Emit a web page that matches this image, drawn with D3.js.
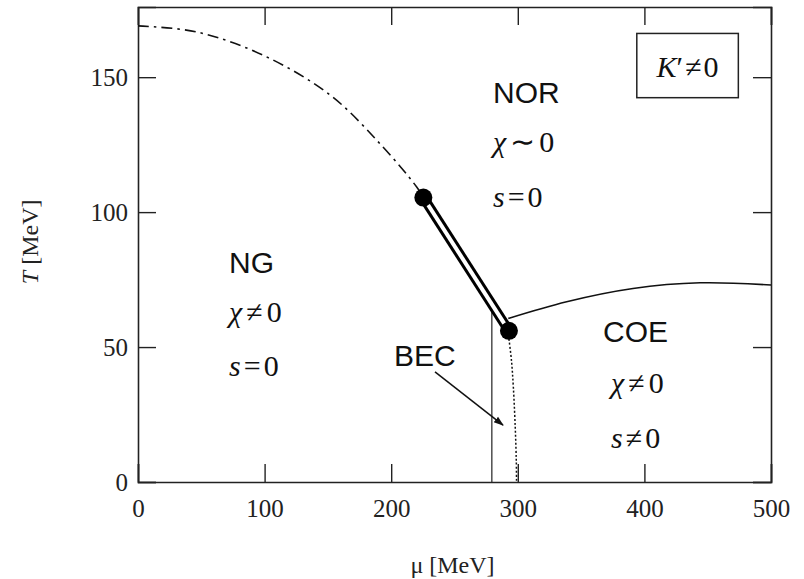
<!DOCTYPE html>
<html>
<head>
<meta charset="utf-8">
<script src="https://cdn.jsdelivr.net/npm/d3@7"></script>
<style>
body { margin: 0; background: #fff; }
svg { display: block; }
.region { font-family: "Liberation Sans", Arial, sans-serif; font-size: 30px; fill: #111; }
.math { font-family: "Liberation Serif", "Times New Roman", serif; font-size: 30px; fill: #111; }
.axis-title { font-family: "Liberation Serif", "Times New Roman", serif; font-size: 24px; fill: #222; }
.tick text { font-family: "Liberation Serif", "Times New Roman", serif; font-size: 25px; fill: #222; }
</style>
</head>
<body>
<div id="chart"></div>
<script>
// crossover (dash-dot) line, from mu=0 down to the upper critical point
var crossMu = [0, 46, 99, 152, 191, 220, 225.4];
var crossT  = [169, 166.8, 158.1, 143.3, 125.4, 109.4, 105.4];

// critical points, joined by the first order (double) line
var critMu = [225.4, 293];
var critT  = [105.4, 56];

// boundary of the COE phase
var coeMu = [292.5, 338.6, 391, 444, 500];
var coeT  = [60.6, 66.8, 71.7, 73.8, 73];

// BEC line (solid, vertical)
var becMu = [279.5, 279.5];
var becT  = [0, 63];

// dotted line below the lower critical point
var dotMu = [293, 295, 296.5, 298, 298.8, 299];
var dotT  = [53, 45, 35, 20, 8, 0];

var xTicks = [0, 100, 200, 300, 400, 500];
var yTicks = [0, 50, 100, 150];

// region names and their math labels (left edge / baseline in data units)
var regionNames = ["NOR", "NG", "COE"];
var regionMu    = [280.4, 71.9, 367.3];
var regionT     = [140.4, 77.6, 51.9];
var chiSign     = ["\u223C", "\u2260", "\u2260"];
var chiMu       = [280.4, 71.9, 373.6];
var chiT        = [122.3, 59.4, 33.0];
var sSign       = ["=", "=", "\u2260"];
var sMu         = [280.4, 71.9, 373.6];
var sT          = [101.9, 39.3, 12.6];

// BEC label and arrow
var becLabelMu = 202.2, becLabelT = 43;
var arrowMu = [234.6, 288.3];
var arrowT  = [40.8, 21.1];

// K' box corners
var boxMu = [394, 474.2];
var boxT  = [166.2, 142.4];

var width = 804, height = 579;
var margin = {top: 7, right: 33, bottom: 97, left: 138};

var svg = d3.select("#chart").append("svg")
    .attr("width", width)
    .attr("height", height);

var x = d3.scaleLinear().domain([0, 500]).range([margin.left, width - margin.right]);
var y = d3.scaleLinear().domain([0, 176]).range([height - margin.bottom, margin.top]);

function zip(a, b) {
    return a.map(function(d, i) { return [d, b[i]]; });
}

var line = d3.line()
    .x(function(d) { return x(d[0]); })
    .y(function(d) { return y(d[1]); });

//axes: ticks point inward on all four sides
svg.append("g")
    .attr("transform", "translate(0," + y(0) + ")")
    .call(d3.axisBottom(x).tickValues(xTicks).tickSize(-18).tickPadding(17));
svg.append("g")
    .attr("transform", "translate(" + x(0) + ",0)")
    .call(d3.axisLeft(y).tickValues(yTicks).tickSize(-18).tickPadding(10));
svg.append("g")
    .attr("transform", "translate(0," + y(176) + ")")
    .call(d3.axisTop(x).tickValues(xTicks).tickSize(-18).tickFormat(""));
svg.append("g")
    .attr("transform", "translate(" + x(500) + ",0)")
    .call(d3.axisRight(y).tickValues(yTicks).tickSize(-18).tickFormat(""));

svg.selectAll(".domain").attr("stroke", "#222").attr("stroke-width", 1.6);
svg.selectAll(".tick line").attr("stroke", "#222").attr("stroke-width", 1.4);
svg.selectAll(".tick text").attr("font-family", null).attr("font-size", null);

//axis titles
var yTitle = svg.append("text").attr("class", "axis-title")
    .attr("transform", "translate(38," + y(89) + ") rotate(-90)")
    .attr("text-anchor", "middle");
yTitle.append("tspan").attr("font-style", "italic").text("T");
yTitle.append("tspan").text(" [MeV]");

svg.append("text").attr("class", "axis-title")
    .attr("x", x(250) - 2).attr("y", 573)
    .attr("text-anchor", "middle")
    .text("\u03BC [MeV]");

//phase boundary lines
svg.append("path")
    .attr("d", line.curve(d3.curveCatmullRom)(zip(crossMu, crossT)))
    .attr("fill", "none").attr("stroke", "#111").attr("stroke-width", 1.6)
    .attr("stroke-dasharray", "11,5,2.5,5");

svg.append("path")
    .attr("d", line.curve(d3.curveCatmullRom)(zip(coeMu, coeT)))
    .attr("fill", "none").attr("stroke", "#111").attr("stroke-width", 1.6);

svg.append("path")
    .attr("d", line.curve(d3.curveLinear)(zip(becMu, becT)))
    .attr("fill", "none").attr("stroke", "#222").attr("stroke-width", 1.2);

svg.append("path")
    .attr("d", line.curve(d3.curveCatmullRom)(zip(dotMu, dotT)))
    .attr("fill", "none").attr("stroke", "#111").attr("stroke-width", 1.5)
    .attr("stroke-dasharray", "2,2");

//first order line drawn as a double line
var firstPath = line.curve(d3.curveLinear)(zip(critMu, critT));
svg.append("path").attr("d", firstPath)
    .attr("fill", "none").attr("stroke", "#000").attr("stroke-width", 10);
svg.append("path").attr("d", firstPath)
    .attr("fill", "none").attr("stroke", "#fff").attr("stroke-width", 4);

svg.selectAll("circle.crit").data(zip(critMu, critT)).enter().append("circle")
    .attr("class", "crit")
    .attr("cx", function(d) { return x(d[0]); })
    .attr("cy", function(d) { return y(d[1]); })
    .attr("r", 9)
    .attr("fill", "#000");

// math label: italic symbol, relation, 0 -- with a little space around the relation
function mathLabel(px, py, sym, rel, gap) {
    var t = svg.append("text").attr("class", "math").attr("x", px).attr("y", py);
    t.append("tspan").attr("font-style", "italic").text(sym);
    t.append("tspan").attr("dx", gap).text(rel);
    t.append("tspan").attr("dx", gap).text("0");
    return t;
}

//region labels
regionNames.forEach(function(name, i) {
    svg.append("text").attr("class", "region")
        .attr("x", x(regionMu[i])).attr("y", y(regionT[i]))
        .text(name);
    mathLabel(x(chiMu[i]), y(chiT[i]), "\u03C7", chiSign[i], 4);
    mathLabel(x(sMu[i]), y(sT[i]), "s", sSign[i], 3);
});

//BEC label with arrow
svg.append("defs").append("marker")
    .attr("id", "arrow")
    .attr("viewBox", "0 0 10 10")
    .attr("refX", 9).attr("refY", 5)
    .attr("markerWidth", 10).attr("markerHeight", 10)
    .attr("markerUnits", "userSpaceOnUse")
    .attr("orient", "auto")
    .append("path").attr("d", "M0,1.5L10,5L0,8.5Z").attr("fill", "#111");

svg.append("text").attr("class", "region")
    .attr("x", x(becLabelMu)).attr("y", y(becLabelT))
    .text("BEC");

svg.append("line")
    .attr("x1", x(arrowMu[0])).attr("y1", y(arrowT[0]))
    .attr("x2", x(arrowMu[1])).attr("y2", y(arrowT[1]))
    .attr("stroke", "#111").attr("stroke-width", 1.5)
    .attr("marker-end", "url(#arrow)");

//K' box
svg.append("rect")
    .attr("x", x(boxMu[0])).attr("y", y(boxT[0]))
    .attr("width", x(boxMu[1]) - x(boxMu[0]))
    .attr("height", y(boxT[1]) - y(boxT[0]))
    .attr("fill", "#fff").attr("stroke", "#222").attr("stroke-width", 1.5);

var kText = svg.append("text").attr("class", "math")
    .attr("x", (x(boxMu[0]) + x(boxMu[1])) / 2)
    .attr("y", y(boxT[1]) - 21)
    .attr("font-size", 32)
    .attr("text-anchor", "middle");
kText.append("tspan").attr("font-style", "italic").text("K");
kText.append("tspan").text("\u2032");
kText.append("tspan").attr("dx", 2).text("\u2260");
kText.append("tspan").attr("dx", 2).text("0");
</script>
</body>
</html>
